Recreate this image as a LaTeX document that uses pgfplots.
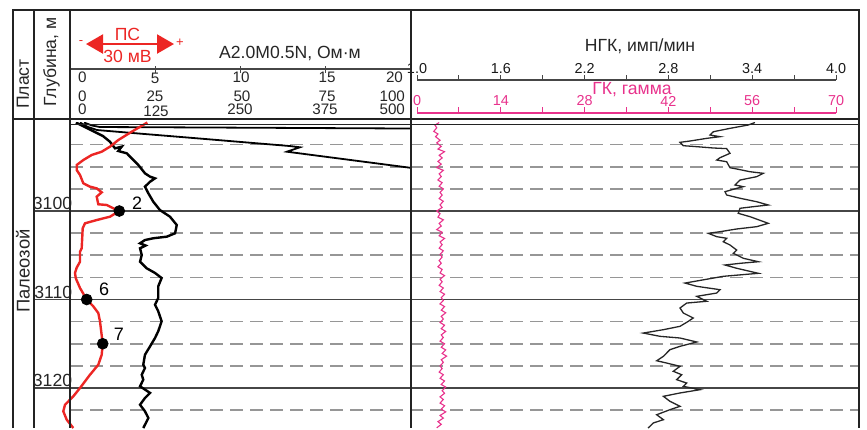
\documentclass[border=0pt]{standalone}
\usepackage{pgfplots}
\pgfplotsset{compat=1.18}
\usepackage{fontspec}
\setmainfont{Liberation Sans}
\usetikzlibrary{arrows.meta}

\definecolor{spred}{RGB}{236,38,36}
\definecolor{gkpink}{RGB}{232,50,140}
\definecolor{dashgray}{RGB}{150,150,150}
\definecolor{linegray}{RGB}{70,70,70}
\definecolor{framec}{RGB}{35,35,35}

% common style of the depth tracks (1 px of the reference = 0.5pt)
\pgfplotsset{track/.style={scale only axis, hide axis, y dir=reverse,
    ymin=3090, ymax=3124.52, height=152.75pt, anchor=north west}}

\begin{document}
\begin{tikzpicture}
\begin{scope}[x=0.5pt,y=-0.5pt]
  \useasboundingbox (0,0) rectangle (867,428);
  % depth grid
  \foreach \d in {3092.5,3095,3097.5,3102.5,3105,3107.5,3112.5,3115,3117.5,3122.5}
    \draw[dashgray, line width=0.8pt, dash pattern=on 6.5pt off 3.5pt]
      (70,{122.5+(\d-3090)*8.85}) -- (859,{122.5+(\d-3090)*8.85});
  \foreach \d in {3100,3110,3120}
    \draw[linegray, line width=0.8pt]
      (34,{122.5+(\d-3090)*8.85}) -- (859,{122.5+(\d-3090)*8.85});
\end{scope}

% ---- track 1: resistivity, scale 0-20
\begin{axis}[track, width=170pt, at={(35pt,-61.25pt)}, xmin=0, xmax=20]
  \addplot[black, line width=1.2pt] coordinates {
    (0.35,3090.0)(0.88,3090.51)(1.35,3090.96)(1.94,3091.53)(2.35,3092.17)
    (2.65,3092.92)(3.04,3092.73)(2.84,3093.22)(3.34,3093.48)(3.63,3094.05)
    (4.02,3094.80)(4.41,3095.74)(4.71,3096.12)(5.0,3096.31)(4.71,3096.69)
    (4.41,3097.25)(4.61,3098.0)(4.90,3098.95)(5.29,3099.89)(5.88,3100.64)
    (6.28,3101.58)(6.18,3102.52)(5.69,3102.90)(4.90,3103.08)(4.41,3103.28)
    (4.12,3103.65)(4.45,3103.90)(4.12,3104.21)(4.22,3104.97)(4.12,3105.73)
    (4.51,3106.47)(5.0,3107.0)(5.39,3107.57)(5.19,3108.51)(5.19,3109.83)
    (5.0,3110.59)(5.19,3111.33)(5.39,3112.46)(5.19,3113.59)(5.0,3114.35)
    (4.71,3115.29)(4.41,3116.24)(4.31,3117.37)(4.41,3117.74)(4.22,3118.50)
    (4.31,3119.06)(4.12,3119.81)(4.71,3120.56)(4.41,3121.13)(4.12,3121.89)
    (4.41,3122.63)(4.61,3123.39)(4.41,3124.15)(4.31,3124.52)};
\end{axis}

% ---- track 1: resistivity, scale 0-100
\begin{axis}[track, width=170pt, at={(35pt,-61.25pt)}, xmin=0, xmax=100]
  \addplot[black, line width=0.9pt] coordinates {
    (2.94,3090.0)(5.29,3090.51)(7.94,3090.85)(18.5,3091.19)(35.3,3091.72)
    (64.7,3092.66)(67.6,3092.80)(63.8,3093.30)(100,3095.11)};
  \addplot[black, line width=0.9pt] coordinates {
    (4.12,3090.0)(6.47,3090.34)(8.82,3090.51)(38.2,3090.56)(100,3090.68)};
\end{axis}

% ---- track 1: SP, mV
\begin{axis}[track, width=170pt, at={(35pt,-61.25pt)}, xmin=0, xmax=117.24, clip=false]
  \addplot[spred, line width=1.2pt] coordinates {
    (26.66,3090.0)(21.28,3091.04)(16.66,3091.98)(13.79,3092.73)(10.93,3093.30)
    (7.48,3093.67)(4.59,3094.24)(2.31,3094.80)(2.31,3095.37)(3.45,3095.93)
    (4.59,3096.87)(6.90,3097.25)(9.21,3097.44)(10.93,3097.89)(9.21,3098.38)
    (9.76,3099.24)(12.66,3099.32)(14.93,3099.69)(17.0,3100.0)(13.79,3100.64)
    (9.21,3101.02)(5.17,3101.39)(4.38,3101.95)(4.03,3104.21)(3.45,3104.60)
    (3.45,3105.73)(2.31,3106.40)(1.72,3107.0)(2.0,3107.6)(3.45,3108.70)
    (5.76,3110.0)(8.03,3110.77)(9.76,3111.53)(10.34,3112.46)(11.28,3115.0)
    (10.93,3116.24)(9.76,3117.37)(6.90,3118.50)(3.45,3120.0)(1.14,3120.94)
    (-1.72,3121.89)(-2.31,3122.63)(-1.14,3123.58)(1.14,3124.52)};
  \addplot[only marks, mark=*, mark size=2.7pt, black] coordinates {
    (17.0,3100)(5.76,3110)(11.28,3115)};
  \node[anchor=base west, font=\fontsize{9}{10}\selectfont] at (axis cs:19.0,3099.8) {2};
  \node[anchor=base west, font=\fontsize{9}{10}\selectfont] at (axis cs:7.6,3109.6) {6};
  \node[anchor=base west, font=\fontsize{9}{10}\selectfont] at (axis cs:12.7,3114.6) {7};
\end{axis}

% ---- track 2: NGK
\begin{axis}[track, width=209.5pt, at={(208.5pt,-61.25pt)}, xmin=1, xmax=4]
  \addplot[black!85, line width=0.65pt] coordinates {
    (3.420,3090.0)(3.372,3090.28)(3.241,3090.66)(3.122,3091.04)(3.098,3091.41)
    (3.169,3091.60)(3.074,3091.79)(2.955,3092.09)(2.883,3092.24)(2.907,3092.62)
    (3.003,3092.73)(3.122,3092.88)(3.217,3092.95)(3.241,3093.48)(3.169,3093.98)
    (3.146,3094.24)(3.217,3094.43)(3.241,3095.11)(3.289,3095.25)(3.384,3095.56)
    (3.480,3095.74)(3.432,3096.12)(3.313,3096.50)(3.277,3097.06)(3.336,3097.25)
    (3.289,3097.44)(3.205,3097.82)(3.217,3098.19)(3.313,3098.56)(3.432,3098.95)
    (3.515,3099.32)(3.408,3099.51)(3.313,3099.69)(3.300,3100.26)(3.384,3100.64)
    (3.515,3101.39)(3.432,3101.77)(3.289,3102.03)(3.169,3102.34)(3.086,3102.52)
    (3.146,3102.90)(3.217,3103.08)(3.193,3103.47)(3.241,3103.84)(3.289,3104.41)
    (3.265,3104.78)(3.336,3105.34)(3.444,3105.73)(3.313,3105.91)(3.205,3106.10)
    (3.289,3106.47)(3.444,3107.04)(3.193,3107.38)(2.919,3108.14)(3.003,3108.51)
    (3.169,3108.89)(3.146,3109.27)(3.003,3109.64)(3.074,3110.20)(2.931,3110.40)
    (2.883,3110.96)(2.907,3111.53)(2.978,3112.09)(2.943,3112.46)(2.883,3113.03)
    (2.764,3113.41)(2.620,3113.79)(2.740,3114.16)(2.883,3114.35)(3.003,3114.80)
    (2.883,3115.29)(2.811,3115.67)(2.764,3116.42)(2.716,3116.92)(2.788,3117.18)
    (2.883,3117.55)(2.835,3118.11)(2.895,3118.50)(2.859,3119.06)(2.931,3119.44)
    (2.907,3119.81)(3.026,3120.19)(2.883,3120.56)(2.764,3120.94)(2.811,3121.50)
    (2.883,3122.07)(2.811,3122.45)(2.716,3123.02)(2.764,3123.58)(2.692,3123.95)
    (2.668,3124.33)(2.654,3124.52)};
\end{axis}

% ---- track 2: GK
\begin{axis}[track, width=209.5pt, at={(208.5pt,-61.25pt)}, xmin=0, xmax=70]
  \addplot[gkpink, line width=0.55pt] coordinates {
    (3.7,3090.0)(3.0,3090.3)(3.3,3090.6)(2.8,3091.0)(3.5,3091.3)(3.1,3091.6)
    (3.85,3092.0)(3.3,3092.3)(4.05,3092.7)(3.5,3093.0)(4.6,3093.3)(3.7,3093.7)
    (4.2,3094.0)(3.5,3094.4)(4.05,3094.7)(3.3,3095.1)(4.4,3095.4)(3.7,3095.8)
    (4.05,3096.1)(3.5,3096.5)(4.2,3096.8)(3.7,3097.2)(4.4,3097.5)(3.85,3097.9)
    (4.2,3098.2)(3.7,3098.6)(4.4,3098.9)(3.85,3099.3)(4.2,3099.6)(3.3,3100.0)
    (3.85,3100.3)(3.5,3100.7)(4.4,3101.0)(3.7,3101.4)(4.05,3101.7)(3.3,3102.1)
    (4.2,3102.4)(3.7,3102.8)(4.6,3103.1)(3.85,3103.5)(4.2,3103.8)(3.7,3104.2)
    (4.4,3104.5)(3.85,3104.9)(4.2,3105.2)(3.7,3105.6)(4.05,3105.9)(3.5,3106.3)
    (4.2,3106.6)(3.85,3107.0)(4.6,3107.3)(3.85,3107.7)(4.2,3108.0)(3.7,3108.4)
    (4.4,3108.7)(3.85,3109.1)(4.6,3109.4)(4.05,3109.8)(4.4,3110.1)(3.85,3110.5)
    (4.6,3110.8)(4.05,3111.2)(4.8,3111.5)(4.05,3111.9)(4.4,3112.2)(3.85,3112.6)
    (4.6,3112.9)(4.05,3113.3)(4.8,3113.6)(4.05,3114.0)(4.4,3114.3)(3.85,3114.7)
    (4.6,3115.0)(4.05,3115.4)(4.8,3115.7)(4.2,3116.1)(4.95,3116.4)(4.05,3116.8)
    (4.4,3117.1)(3.85,3117.5)(4.2,3117.8)(3.7,3118.2)(4.4,3118.5)(3.85,3118.9)
    (4.6,3119.2)(4.05,3119.6)(4.8,3119.9)(4.2,3120.3)(4.6,3120.6)(3.85,3121.0)
    (4.4,3121.3)(3.85,3121.7)(4.6,3122.0)(4.05,3122.4)(4.8,3122.7)(3.85,3123.1)
    (4.4,3123.4)(3.5,3123.8)(4.05,3124.1)(3.3,3124.5)};
\end{axis}

\begin{scope}[x=0.5pt,y=-0.5pt]
  % header scales, track 1
  \draw[linegray, line width=0.6pt] (70,69) -- (411,69);
  \foreach \x in {155,240,325} \draw[linegray, line width=0.5pt] (\x,66) -- (\x,73);
  \begin{scope}[font=\fontsize{7.6}{8}\selectfont, text=black!85]
    \node[anchor=west] at (71,77) {0};
    \node at (155,78.5) {5};
    \node at (241,77) {10};
    \node at (327,77) {15};
    \node[anchor=east] at (410,77) {20};
    \node[anchor=west] at (71,96.5) {0};
    \node at (155,96.5) {25};
    \node at (242,96.5) {50};
    \node at (327,96.5) {75};
    \node[anchor=east] at (412,96.5) {100};
    \node[anchor=west] at (71,109.5) {0};
    \node at (156,111) {125};
    \node at (240,109.5) {250};
    \node at (325,109.5) {375};
    \node[anchor=east] at (412,109.5) {500};
  \end{scope}
  \node[font=\fontsize{8.8}{10}\selectfont, text=black!85] at (290,53) {A2.0M0.5N, Ом·м};
  % SP legend
  \draw[spred, line width=1.1pt, {Triangle[length=8.5pt,width=9.5pt]}-{Triangle[length=8.5pt,width=9.5pt]}] (86,44) -- (174,44);
  \node[spred, font=\fontsize{8.8}{10}\selectfont] at (127.5,34) {ПС};
  \node[spred, font=\fontsize{8.8}{10}\selectfont] at (127.5,56) {30 мВ};
  \node[spred, font=\fontsize{6.5}{7}\selectfont] at (81,43) {-};
  \node[spred, font=\fontsize{6.5}{7}\selectfont] at (180,42.5) {+};
  % header scales, track 2
  \node[font=\fontsize{8.8}{10}\selectfont, text=black!85] at (640,46) {НГК, имп/мин};
  \draw[linegray, line width=0.6pt] (417,80) -- (836,80);
  \foreach \i in {0,...,10} \draw[linegray, line width=0.5pt] ({417+\i*41.9},75) -- ({417+\i*41.9},80);
  \foreach \v [count=\i from 0] in {1.0,1.6,2.2,2.8,3.4,4.0}
    \node[font=\fontsize{7.2}{8}\selectfont, text=black!90] at ({417+\i*83.8},68.5) {\v};
  \node[gkpink, font=\fontsize{8.8}{10}\selectfont] at (632,90) {ГК, гамма};
  \draw[gkpink, line width=0.6pt] (417,113) -- (836,113);
  \foreach \i in {0,...,10} \draw[gkpink, line width=0.5pt] ({417+\i*41.9},107) -- ({417+\i*41.9},113);
  \foreach \v [count=\i from 0] in {0,14,28,42,56,70}
    \node[gkpink, font=\fontsize{7.2}{8}\selectfont] at ({417+\i*83.8},101) {\v};
  % frame
  \draw[framec, line width=1pt] (12.5,428) -- (12.5,10) -- (859,10) -- (859,428);
  \draw[framec, line width=0.6pt] (34,10) -- (34,428);
  \draw[framec, line width=0.6pt] (70,10) -- (70,428);
  \draw[framec, line width=1.1pt] (411,10) -- (411,428);
  \draw[framec, line width=1pt] (12.5,119) -- (859,119);
  \draw[framec, line width=0.6pt] (70,124.5) -- (859,124.5);
  % column titles and depths
  \node[rotate=90, font=\fontsize{8.8}{10}\selectfont, text=black!85] at (23,84) {Пласт};
  \node[rotate=90, font=\fontsize{8.8}{10}\selectfont, text=black!85] at (51.5,62) {Глубина, м};
  \node[rotate=90, font=\fontsize{9.2}{10}\selectfont, text=black!85] at (23,271) {Палеозой};
  \foreach \d in {3100,3110,3120}
    \node[anchor=base east, inner sep=0pt, font=\fontsize{8.8}{10}\selectfont, text=black!85]
      at (72.5,{122.5+(\d-3090)*8.85-1.5}) {\d};
\end{scope}
\end{tikzpicture}
\end{document}
